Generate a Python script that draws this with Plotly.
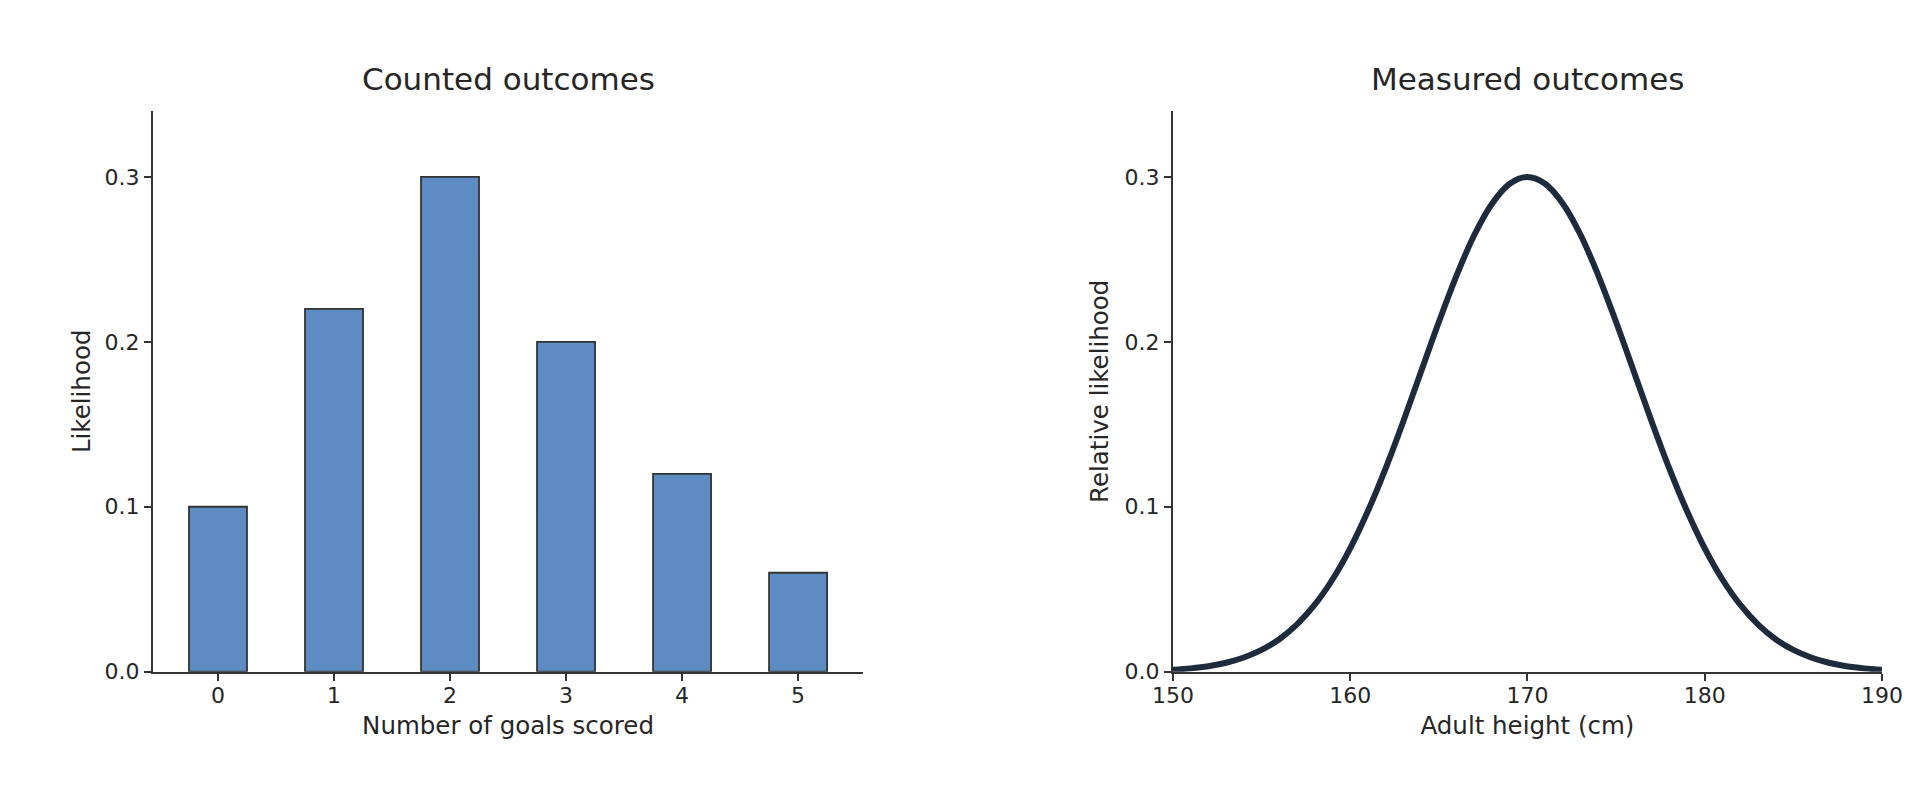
import plotly.graph_objects as go
from plotly.subplots import make_subplots

# left panel: counted outcomes
goals = [0, 1, 2, 3, 4, 5]
goal_likelihood = [0.10, 0.22, 0.30, 0.20, 0.12, 0.06]

# right panel: measured outcomes (1 cm steps)
heights = list(range(150, 191))
height_likelihood = [
    0.0012, 0.0020, 0.0033, 0.0054, 0.0086, 0.0132, 0.0197, 0.0287, 0.0406, 0.0559,
    0.0748, 0.0974, 0.1233, 0.1519, 0.1820, 0.2120, 0.2402, 0.2648, 0.2838, 0.2959,
    0.3000,
    0.2959, 0.2838, 0.2648, 0.2402, 0.2120, 0.1820, 0.1519, 0.1233, 0.0974, 0.0748,
    0.0559, 0.0406, 0.0287, 0.0197, 0.0132, 0.0086, 0.0054, 0.0033, 0.0020, 0.0012,
]

y_ticks = [0.0, 0.1, 0.2, 0.3]
titles = ["Counted outcomes", "Measured outcomes"]

TEXT = "#262626"
AXIS = "#333333"
FONT = "DejaVu Sans"

fig = make_subplots(rows=1, cols=2)

fig.add_trace(go.Bar(
    x=goals, y=goal_likelihood, width=0.5,
    marker=dict(color="#5c8cc2", line=dict(color=AXIS, width=1.8)),
    showlegend=False,
), row=1, col=1)

fig.add_trace(go.Scatter(
    x=heights, y=height_likelihood, mode="lines",
    line=dict(color="#1e2b3c", width=6, shape="spline", smoothing=1.0),
    showlegend=False,
), row=1, col=2)

axis_style = dict(
    showline=True, linecolor=AXIS, linewidth=2,
    ticks="outside", ticklen=7, tickwidth=2, tickcolor=AXIS,
    showgrid=False, zeroline=False, automargin=False,
    tickfont=dict(size=22, color=TEXT),
)

fig.update_xaxes(**axis_style, ticklabelstandoff=-4)
fig.update_yaxes(**axis_style)

y_dom = [0.1604, 0.8613]
x1_dom = [0.0797, 0.4495]
x2_dom = [0.6109, 0.9802]

fig.update_layout(
    xaxis=dict(domain=x1_dom, range=[-0.56, 5.56], tickvals=goals,
               title=dict(text="Number of goals scored", standoff=10,
                          font=dict(size=24.5, color=TEXT))),
    xaxis2=dict(domain=x2_dom, range=[150, 190], tickvals=[150, 160, 170, 180, 190],
                title=dict(text="Adult height (cm)", standoff=10,
                           font=dict(size=24.5, color=TEXT))),
    yaxis=dict(domain=y_dom, range=[0, 0.34], tickvals=y_ticks, tickformat=".1f",
               title=dict(text="Likelihood", standoff=7,
                          font=dict(size=24.5, color=TEXT))),
    yaxis2=dict(domain=y_dom, range=[0, 0.34], tickvals=y_ticks, tickformat=".1f",
                title=dict(text="Relative likelihood", standoff=9,
                           font=dict(size=24.5, color=TEXT))),
    width=1920,
    height=800,
    margin=dict(l=0, r=0, t=0, b=0),
    paper_bgcolor="white",
    plot_bgcolor="white",
    font=dict(family=FONT, color=TEXT),
)

for dom, text in zip([x1_dom, x2_dom], titles):
    fig.add_annotation(
        text=text, x=(dom[0] + dom[1]) / 2, y=y_dom[1],
        xref="paper", yref="paper", xanchor="center", yanchor="bottom",
        yshift=12, showarrow=False, font=dict(size=31, color=TEXT),
    )

# drop the browser's default body margin so the figure sits at (0, 0)
fig.write_html("out.html", config={"displayModeBar": False},
               post_script="document.body.style.margin = '0';")
